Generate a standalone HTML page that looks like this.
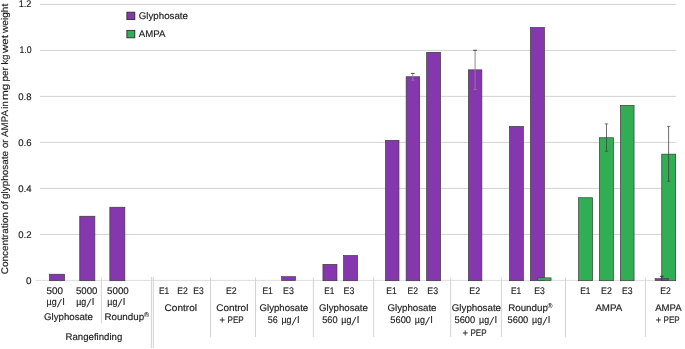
<!DOCTYPE html><html><head><meta charset="utf-8"><title>Chart</title><style>
html,body{margin:0;padding:0;background:#fff}body{width:685px;height:349px;overflow:hidden}svg{display:block}text{text-rendering:geometricPrecision;font-family:"Liberation Sans",sans-serif;font-size:9.6px;fill:#1c1c1c;stroke:#1c1c1c;stroke-width:0.16px}svg{will-change:transform}
</style></head><body>
<svg width="685" height="349" viewBox="0 0 685 349">
<rect x="0" y="0" width="685" height="349" fill="#fff"/>
<line x1="40" x2="676" y1="234.40" y2="234.40" stroke="#cbcbcb" stroke-width="0.85"/>
<line x1="40" x2="676" y1="188.40" y2="188.40" stroke="#cbcbcb" stroke-width="0.85"/>
<line x1="40" x2="676" y1="142.40" y2="142.40" stroke="#cbcbcb" stroke-width="0.85"/>
<line x1="40" x2="676" y1="96.40" y2="96.40" stroke="#cbcbcb" stroke-width="0.85"/>
<line x1="40" x2="676" y1="50.40" y2="50.40" stroke="#cbcbcb" stroke-width="0.85"/>
<line x1="40" x2="676" y1="4.40" y2="4.40" stroke="#cbcbcb" stroke-width="0.85"/>
<line x1="35.5" x2="676.5" y1="280.40" y2="280.40" stroke="#dedede" stroke-width="1"/>
<text x="25.90" y="283.60" textLength="5.50" lengthAdjust="spacingAndGlyphs">0</text>
<text x="18.30" y="237.70" textLength="13.30" lengthAdjust="spacingAndGlyphs">0.2</text>
<text x="18.30" y="191.70" textLength="13.30" lengthAdjust="spacingAndGlyphs">0.4</text>
<text x="18.30" y="145.70" textLength="13.30" lengthAdjust="spacingAndGlyphs">0.6</text>
<text x="18.30" y="99.50" textLength="13.30" lengthAdjust="spacingAndGlyphs">0.8</text>
<text x="19.40" y="52.50" textLength="12.10" lengthAdjust="spacingAndGlyphs">1.0</text>
<text x="18.70" y="7.40" textLength="12.60" lengthAdjust="spacingAndGlyphs">1.2</text>
<g transform="translate(7.9,273.9) rotate(-90)">
<text x="-0.40" y="0" textLength="62.10" lengthAdjust="spacingAndGlyphs">Concentration</text>
<text x="63.90" y="0" textLength="8.90" lengthAdjust="spacingAndGlyphs">of</text>
<text x="75.00" y="0" textLength="48.00" lengthAdjust="spacingAndGlyphs">glyphosate</text>
<text x="125.90" y="0" textLength="8.60" lengthAdjust="spacingAndGlyphs">or</text>
<text x="137.00" y="0" textLength="26.80" lengthAdjust="spacingAndGlyphs">AMPA</text>
<text x="165.20" y="0" textLength="7.50" lengthAdjust="spacingAndGlyphs">in</text>
<text x="173.90" y="0" textLength="16.40" lengthAdjust="spacingAndGlyphs">mg</text>
<text x="192.40" y="0" textLength="14.40" lengthAdjust="spacingAndGlyphs">per</text>
<text x="209.40" y="0" textLength="9.80" lengthAdjust="spacingAndGlyphs">kg</text>
<text x="220.90" y="0" textLength="17.90" lengthAdjust="spacingAndGlyphs">wet</text>
<text x="240.90" y="0" textLength="29.20" lengthAdjust="spacingAndGlyphs">weight</text>
</g>
<line x1="101.40" x2="101.40" y1="277.50" y2="323.40" stroke="#cfcfcf" stroke-width="0.9"/>
<line x1="151.40" x2="151.40" y1="277.00" y2="348.00" stroke="#cfcfcf" stroke-width="0.9"/>
<line x1="153.30" x2="153.30" y1="277.00" y2="348.00" stroke="#cfcfcf" stroke-width="0.9"/>
<line x1="210.50" x2="210.50" y1="277.50" y2="337.00" stroke="#cfcfcf" stroke-width="0.9"/>
<line x1="255.50" x2="255.50" y1="277.50" y2="337.00" stroke="#cfcfcf" stroke-width="0.9"/>
<line x1="313.40" x2="313.40" y1="277.50" y2="337.00" stroke="#cfcfcf" stroke-width="0.9"/>
<line x1="373.60" x2="373.60" y1="277.50" y2="337.00" stroke="#cfcfcf" stroke-width="0.9"/>
<line x1="450.70" x2="450.70" y1="277.50" y2="337.00" stroke="#cfcfcf" stroke-width="0.9"/>
<line x1="501.40" x2="501.40" y1="277.50" y2="337.00" stroke="#cfcfcf" stroke-width="0.9"/>
<line x1="565.50" x2="565.50" y1="277.50" y2="337.00" stroke="#cfcfcf" stroke-width="0.9"/>
<line x1="645.40" x2="645.40" y1="277.50" y2="337.00" stroke="#cfcfcf" stroke-width="0.9"/>
<rect x="49.55" y="274.25" width="15.00" height="6.45" fill="#8537AE" stroke="#3a3a3a" stroke-width="0.7"/>
<rect x="79.75" y="216.25" width="15.10" height="64.45" fill="#8537AE" stroke="#3a3a3a" stroke-width="0.7"/>
<rect x="109.85" y="207.25" width="15.00" height="73.45" fill="#8537AE" stroke="#3a3a3a" stroke-width="0.7"/>
<rect x="281.57" y="276.52" width="14.15" height="4.17" fill="#8537AE" stroke="#3a3a3a" stroke-width="0.55"/>
<rect x="322.95" y="264.35" width="14.00" height="16.35" fill="#8537AE" stroke="#3a3a3a" stroke-width="0.7"/>
<rect x="343.65" y="255.55" width="13.90" height="25.15" fill="#8537AE" stroke="#3a3a3a" stroke-width="0.7"/>
<rect x="385.55" y="140.35" width="13.40" height="140.35" fill="#8537AE" stroke="#3a3a3a" stroke-width="0.7"/>
<rect x="406.15" y="76.75" width="13.50" height="203.95" fill="#8537AE" stroke="#3a3a3a" stroke-width="0.7"/>
<rect x="426.65" y="52.35" width="13.90" height="228.35" fill="#8537AE" stroke="#3a3a3a" stroke-width="0.7"/>
<rect x="468.45" y="69.85" width="13.40" height="210.85" fill="#8537AE" stroke="#3a3a3a" stroke-width="0.7"/>
<rect x="509.55" y="126.45" width="13.80" height="154.25" fill="#8537AE" stroke="#3a3a3a" stroke-width="0.7"/>
<rect x="530.45" y="27.55" width="14.00" height="253.15" fill="#8537AE" stroke="#3a3a3a" stroke-width="0.7"/>
<rect x="537.77" y="277.82" width="13.35" height="2.87" fill="#31AE53" stroke="#3a3a3a" stroke-width="0.55"/>
<rect x="578.55" y="197.75" width="14.00" height="82.95" fill="#31AE53" stroke="#3a3a3a" stroke-width="0.7"/>
<rect x="599.45" y="137.75" width="14.00" height="142.95" fill="#31AE53" stroke="#3a3a3a" stroke-width="0.7"/>
<rect x="620.45" y="105.45" width="13.60" height="175.25" fill="#31AE53" stroke="#3a3a3a" stroke-width="0.7"/>
<rect x="661.75" y="154.15" width="13.90" height="126.55" fill="#31AE53" stroke="#3a3a3a" stroke-width="0.7"/>
<rect x="655.07" y="278.62" width="13.35" height="2.07" fill="#8537AE" stroke="#3a3a3a" stroke-width="0.55"/>
<line x1="412.80" x2="412.80" y1="73.40" y2="76.40" stroke="#7d7d7d" stroke-width="0.9"/>
<line x1="412.80" x2="412.80" y1="76.40" y2="80.20" stroke="#9a80a8" stroke-width="0.8"/>
<line x1="410.90" x2="414.70" y1="73.40" y2="73.40" stroke="#3a3a3a" stroke-width="0.9"/>
<line x1="411.20" x2="414.40" y1="80.20" y2="80.20" stroke="#9a80a8" stroke-width="0.8"/>
<line x1="475.10" x2="475.10" y1="50.30" y2="69.50" stroke="#7d7d7d" stroke-width="0.9"/>
<line x1="475.10" x2="475.10" y1="69.50" y2="89.40" stroke="#9a80a8" stroke-width="0.8"/>
<line x1="473.20" x2="477.00" y1="50.30" y2="50.30" stroke="#3a3a3a" stroke-width="0.9"/>
<line x1="473.50" x2="476.70" y1="89.40" y2="89.40" stroke="#9a80a8" stroke-width="0.8"/>
<line x1="606.50" x2="606.50" y1="123.90" y2="151.30" stroke="#3e3e3e" stroke-width="0.75"/>
<line x1="604.80" x2="608.20" y1="123.90" y2="123.90" stroke="#5a5a5a" stroke-width="0.8"/>
<line x1="604.80" x2="608.20" y1="151.30" y2="151.30" stroke="#4a4a4a" stroke-width="0.8"/>
<line x1="668.60" x2="668.60" y1="126.40" y2="181.30" stroke="#3e3e3e" stroke-width="0.75"/>
<line x1="666.90" x2="670.30" y1="126.40" y2="126.40" stroke="#5a5a5a" stroke-width="0.8"/>
<line x1="666.90" x2="670.30" y1="181.30" y2="181.30" stroke="#4a4a4a" stroke-width="0.8"/>
<line x1="661.7" x2="661.7" y1="276.2" y2="280.2" stroke="#333" stroke-width="0.8"/>
<line x1="659.9" x2="663.5" y1="276.3" y2="276.3" stroke="#222" stroke-width="0.9"/>
<rect x="126.9" y="12.2" width="7.9" height="7.4" fill="#8537AE" stroke="#2c2c2c" stroke-width="0.9"/>
<rect x="126.9" y="30.4" width="7.9" height="7.4" fill="#31AE53" stroke="#2c2c2c" stroke-width="0.9"/>
<text x="138.80" y="18.80" textLength="49.10" lengthAdjust="spacingAndGlyphs">Glyphosate</text>
<text x="138.80" y="37.10" textLength="26.60" lengthAdjust="spacingAndGlyphs">AMPA</text>
<text x="46.40" y="293.70" textLength="16.50" lengthAdjust="spacingAndGlyphs">500</text>
<text x="76.00" y="293.70" textLength="21.50" lengthAdjust="spacingAndGlyphs">5000</text>
<text x="107.10" y="293.70" textLength="21.70" lengthAdjust="spacingAndGlyphs">5000</text>
<text x="158.90" y="293.70" textLength="10.30" lengthAdjust="spacingAndGlyphs">E1</text>
<text x="177.20" y="293.70" textLength="10.50" lengthAdjust="spacingAndGlyphs">E2</text>
<text x="193.30" y="293.70" textLength="10.40" lengthAdjust="spacingAndGlyphs">E3</text>
<text x="225.90" y="293.70" textLength="10.70" lengthAdjust="spacingAndGlyphs">E2</text>
<text x="262.40" y="293.70" textLength="10.50" lengthAdjust="spacingAndGlyphs">E1</text>
<text x="283.00" y="293.70" textLength="10.80" lengthAdjust="spacingAndGlyphs">E3</text>
<text x="324.30" y="293.70" textLength="10.10" lengthAdjust="spacingAndGlyphs">E1</text>
<text x="343.50" y="293.70" textLength="10.80" lengthAdjust="spacingAndGlyphs">E3</text>
<text x="386.20" y="293.70" textLength="10.50" lengthAdjust="spacingAndGlyphs">E1</text>
<text x="407.60" y="293.70" textLength="10.40" lengthAdjust="spacingAndGlyphs">E2</text>
<text x="427.30" y="293.70" textLength="10.80" lengthAdjust="spacingAndGlyphs">E3</text>
<text x="469.30" y="293.70" textLength="10.80" lengthAdjust="spacingAndGlyphs">E2</text>
<text x="511.00" y="293.70" textLength="10.30" lengthAdjust="spacingAndGlyphs">E1</text>
<text x="534.20" y="293.70" textLength="10.50" lengthAdjust="spacingAndGlyphs">E3</text>
<text x="580.20" y="293.70" textLength="10.30" lengthAdjust="spacingAndGlyphs">E1</text>
<text x="601.10" y="293.70" textLength="10.70" lengthAdjust="spacingAndGlyphs">E2</text>
<text x="622.00" y="293.70" textLength="10.60" lengthAdjust="spacingAndGlyphs">E3</text>
<text x="660.30" y="293.70" textLength="10.50" lengthAdjust="spacingAndGlyphs">E2</text>
<text x="46.60" y="305.20" textLength="10.10" lengthAdjust="spacingAndGlyphs">µg</text>
<text transform="translate(56.90,307.10) skewX(-13)" style="font-size:11px;stroke-width:0.05px">/</text>
<text x="62.40" y="305.20">l</text>
<text x="76.20" y="305.20" textLength="10.10" lengthAdjust="spacingAndGlyphs">µg</text>
<text transform="translate(86.50,307.10) skewX(-13)" style="font-size:11px;stroke-width:0.05px">/</text>
<text x="92.00" y="305.20">l</text>
<text x="107.30" y="305.20" textLength="10.10" lengthAdjust="spacingAndGlyphs">µg</text>
<text transform="translate(117.60,307.10) skewX(-13)" style="font-size:11px;stroke-width:0.05px">/</text>
<text x="123.10" y="305.20">l</text>
<text x="44.10" y="319.50" textLength="48.80" lengthAdjust="spacingAndGlyphs">Glyphosate</text>
<text x="104.40" y="319.50" textLength="39.70" lengthAdjust="spacingAndGlyphs">Roundup</text>
<text x="143.9" y="317.1" style="font-size:6.7px;fill:#4a4a4a;stroke-width:0.1px">®</text>
<text x="65.50" y="339.80" textLength="56.80" lengthAdjust="spacingAndGlyphs">Rangefinding</text>
<text x="164.50" y="310.60" textLength="32.50" lengthAdjust="spacingAndGlyphs">Control</text>
<text x="216.20" y="310.60" textLength="32.20" lengthAdjust="spacingAndGlyphs">Control</text>
<text x="219.60" y="322.70" textLength="5.50" lengthAdjust="spacingAndGlyphs">+</text>
<text x="227.50" y="322.70" textLength="16.20" lengthAdjust="spacingAndGlyphs">PEP</text>
<text x="259.60" y="310.60" textLength="48.60" lengthAdjust="spacingAndGlyphs">Glyphosate</text>
<text x="267.70" y="322.70" textLength="9.90" lengthAdjust="spacingAndGlyphs">56</text>
<text x="281.40" y="322.70" textLength="10.10" lengthAdjust="spacingAndGlyphs">µg</text>
<text transform="translate(291.70,324.60) skewX(-13)" style="font-size:11px;stroke-width:0.05px">/</text>
<text x="297.20" y="322.70">l</text>
<text x="319.10" y="310.60" textLength="48.80" lengthAdjust="spacingAndGlyphs">Glyphosate</text>
<text x="322.20" y="322.70" textLength="15.30" lengthAdjust="spacingAndGlyphs">560</text>
<text x="341.30" y="322.70" textLength="10.10" lengthAdjust="spacingAndGlyphs">µg</text>
<text transform="translate(351.60,324.60) skewX(-13)" style="font-size:11px;stroke-width:0.05px">/</text>
<text x="357.10" y="322.70">l</text>
<text x="387.50" y="310.60" textLength="49.00" lengthAdjust="spacingAndGlyphs">Glyphosate</text>
<text x="390.30" y="322.70" textLength="20.70" lengthAdjust="spacingAndGlyphs">5600</text>
<text x="414.80" y="322.70" textLength="10.10" lengthAdjust="spacingAndGlyphs">µg</text>
<text transform="translate(425.10,324.60) skewX(-13)" style="font-size:11px;stroke-width:0.05px">/</text>
<text x="430.60" y="322.70">l</text>
<text x="451.80" y="310.60" textLength="49.20" lengthAdjust="spacingAndGlyphs">Glyphosate</text>
<text x="454.50" y="322.70" textLength="20.70" lengthAdjust="spacingAndGlyphs">5600</text>
<text x="479.00" y="322.70" textLength="10.10" lengthAdjust="spacingAndGlyphs">µg</text>
<text transform="translate(489.30,324.60) skewX(-13)" style="font-size:11px;stroke-width:0.05px">/</text>
<text x="494.80" y="322.70">l</text>
<text x="462.60" y="335.70" textLength="5.50" lengthAdjust="spacingAndGlyphs">+</text>
<text x="470.50" y="335.70" textLength="16.10" lengthAdjust="spacingAndGlyphs">PEP</text>
<text x="508.20" y="310.60" textLength="39.70" lengthAdjust="spacingAndGlyphs">Roundup</text>
<text x="507.60" y="322.70" textLength="20.70" lengthAdjust="spacingAndGlyphs">5600</text>
<text x="532.10" y="322.70" textLength="10.10" lengthAdjust="spacingAndGlyphs">µg</text>
<text transform="translate(542.40,324.60) skewX(-13)" style="font-size:11px;stroke-width:0.05px">/</text>
<text x="547.90" y="322.70">l</text>
<text x="547.6" y="307.9" style="font-size:6.7px;fill:#4a4a4a;stroke-width:0.1px">®</text>
<text x="595.40" y="310.60" textLength="26.80" lengthAdjust="spacingAndGlyphs">AMPA</text>
<text x="655.20" y="310.60" textLength="26.40" lengthAdjust="spacingAndGlyphs">AMPA</text>
<text x="655.70" y="322.70" textLength="5.50" lengthAdjust="spacingAndGlyphs">+</text>
<text x="663.60" y="322.70" textLength="16.10" lengthAdjust="spacingAndGlyphs">PEP</text>
</svg></body></html>
